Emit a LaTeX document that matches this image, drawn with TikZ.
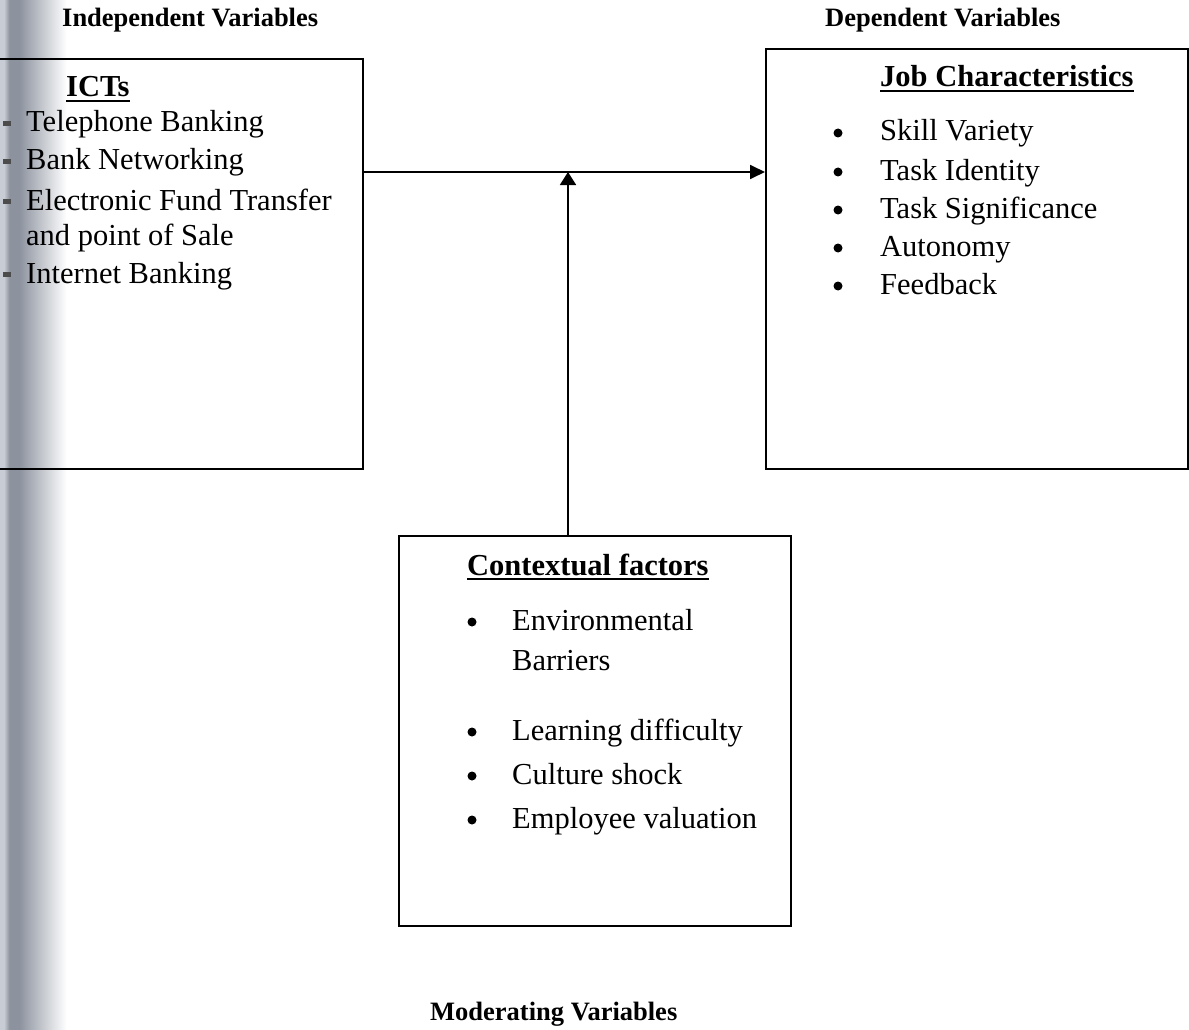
\documentclass[tikz,border=0pt]{standalone}
\usepackage{fontspec}
\setmainfont{Liberation Serif}
\usetikzlibrary{arrows.meta}
\definecolor{scandark}{RGB}{140,146,158}
\definecolor{scanlight}{RGB}{200,204,212}
\pgfdeclarehorizontalshading{scanshade}{100bp}{color(0bp)=(scanlight); color(25.17bp)=(scanlight); color(25.4bp)=(scandark); color(25.8bp)=(scandark); color(27.8bp)=(white); color(100bp)=(white)}
\begin{document}
\begin{tikzpicture}[x=1pt,y=-1pt,
  box/.style={draw, line width=1.7pt, anchor=north west, inner sep=0pt},
  hdr/.style={anchor=base west, inner sep=0pt, font=\fontsize{26.5}{30}\selectfont\bfseries},
  ttl/.style={anchor=base west, inner sep=0pt, font=\fontsize{30.5}{36}\selectfont\bfseries},
  itm/.style={anchor=base west, inner sep=0pt, font=\fontsize{30.5}{36}\selectfont},
  uline/.style={line width=1.8pt},
  conn/.style={line width=1.8pt},
  tipH/.style={-{Triangle[length=15pt,width=14pt]}},
  tipV/.style={-{Triangle[length=13pt,width=16pt]}}
]
\useasboundingbox (0,0) rectangle (1189,1030);
\clip (0,0) rectangle (1189,1030);
% page with the scanner shadow along its left edge
\shade[shading=scanshade] (0,0) rectangle (1189,1030);

% headers
\node[hdr] (hind) at (62,27) {Independent Variables};
\node[hdr] (hdep) at (825,27) {Dependent Variables};
\node[hdr] (hmod) at (430,1020) {Moderating Variables};

% boxes
\node[box, minimum width=382pt, minimum height=410pt] (ind) at (-20,58) {};
\node[box, minimum width=422pt, minimum height=420pt] (dep) at (765,48) {};
\node[box, minimum width=392pt, minimum height=390pt] (mod) at (398,535) {};

% ICTs
\node[ttl] (ict) at (66,97) {ICTs};
\draw[uline] ([yshift=-4pt]ict.base west) -- ([yshift=-4pt]ict.base east);
\node[itm] (i1) at (26,132) {Telephone Banking};
\node[itm] (i2) at (26,170) {Bank Networking};
\node[itm] (i3) at (26,210) {Electronic Fund Transfer};
\node[itm] (i4) at (26,245) {and point of Sale};
\node[itm] (i5) at (26,283) {Internet Banking};
\foreach \y in {132,170,210,283}{
  \fill[black!70] (3,\y-11) rectangle (11,\y-6);
}

% Job characteristics
\node[ttl] (jc) at (880,87) {Job Characteristics};
\draw[uline] ([yshift=-4pt]jc.base west) -- ([yshift=-4pt]jc.base east);
\node[itm] (j1) at (880,141) {Skill Variety};
\node[itm] (j2) at (880,180) {Task Identity};
\node[itm] (j3) at (880,218) {Task Significance};
\node[itm] (j4) at (880,256) {Autonomy};
\node[itm] (j5) at (880,294) {Feedback};
\foreach \y in {141,180,218,256,294}{
  \fill (838,\y-8) circle (4.5);
}

% Contextual factors
\node[ttl] (cf) at (467,575) {Contextual factors};
\draw[uline] ([yshift=-4pt]cf.base west) -- ([yshift=-4pt]cf.base east);
\node[itm] (c1) at (512,630) {Environmental};
\node[itm] (c1b) at (512,670) {Barriers};
\node[itm] (c2) at (512,740) {Learning difficulty};
\node[itm] (c3) at (512,784) {Culture shock};
\node[itm] (c4) at (512,828) {Employee valuation};
\foreach \y in {630,740,784,828}{
  \fill (472,\y-8) circle (4.5);
}

% connectors
\coordinate (h) at (0,172);
\coordinate (v) at (568,172);
\draw[conn, tipH] (ind.east |- h) -- (dep.west |- h);
\draw[conn, tipV] (mod.north -| v) -- (v);
\end{tikzpicture}
\end{document}
